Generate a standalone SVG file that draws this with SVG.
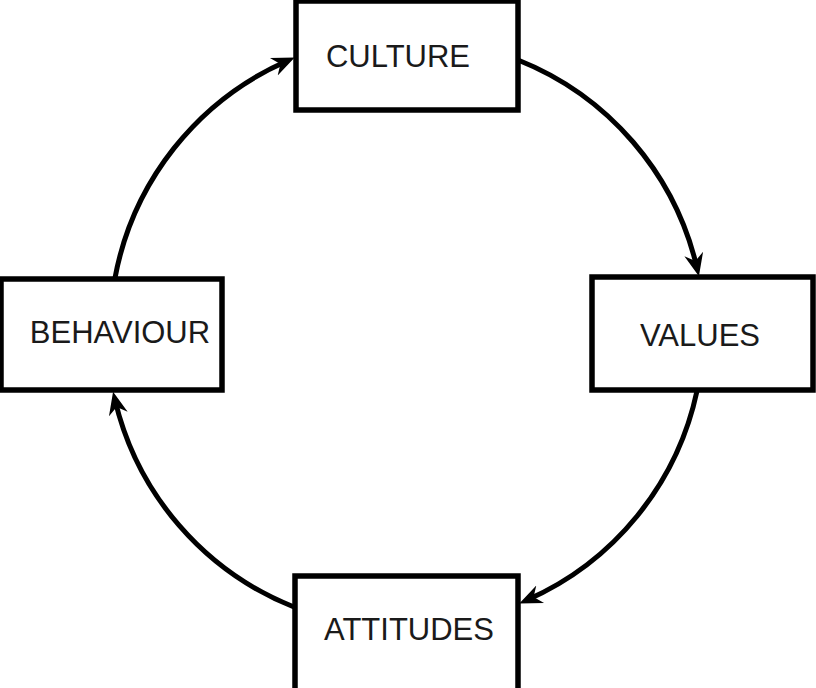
<svg xmlns="http://www.w3.org/2000/svg" width="816" height="688" viewBox="0 0 816 688">
<style>
.box{fill:#fff;stroke:#000;stroke-width:5.5}
.lbl{font-family:"Liberation Sans",Arial,sans-serif;font-size:31px;fill:#1a1a1a;text-anchor:middle}
.arc{fill:none;stroke:#000;stroke-width:5;marker-end:url(#ah)}
</style>
<defs>
<marker id="ah" markerUnits="userSpaceOnUse" markerWidth="24" markerHeight="24" viewBox="0 -9 20 18" refX="12" refY="0" orient="auto">
<path d="M19,0 L0,-8 L6,0 L0,8 Z" fill="#000"/>
</marker>
</defs>
<rect width="816" height="688" fill="#fff"/>
<g id="connectors">
<path class="arc" d="M115,278 A296,296 0 0 1 287,61"/>
<path class="arc" d="M518,60 A296,296 0 0 1 697,268"/>
<path class="arc" d="M697,391 A296,296 0 0 1 527,600"/>
<path class="arc" d="M294,607 A296,296 0 0 1 115,400"/>
</g>
<g id="culture">
<rect class="box" x="296" y="1" width="222" height="109"/>
<text class="lbl" x="398" y="67">CULTURE</text>
</g>
<g id="values">
<rect class="box" x="592" y="277" width="221" height="113"/>
<text class="lbl" x="700" y="346">VALUES</text>
</g>
<g id="attitudes">
<rect class="box" x="295" y="576" width="223" height="120"/>
<text class="lbl" x="409" y="640">ATTITUDES</text>
</g>
<g id="behaviour">
<rect class="box" x="1" y="279" width="221" height="111"/>
<text class="lbl" x="120" y="343">BEHAVIOUR</text>
</g>
</svg>
